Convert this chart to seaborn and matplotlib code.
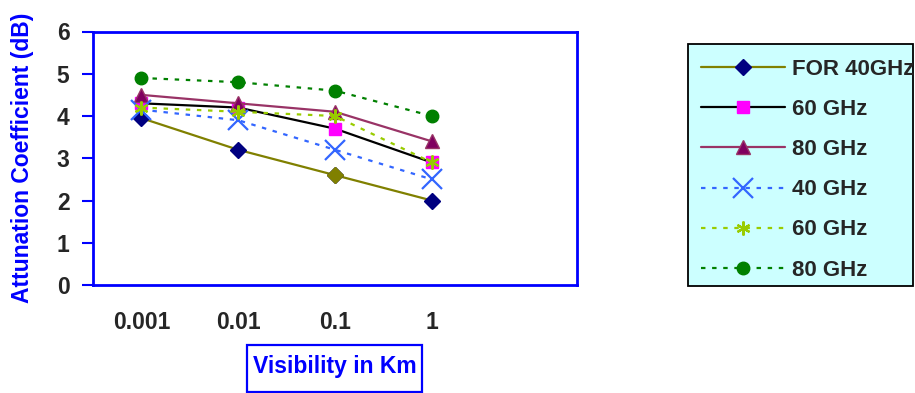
import matplotlib
matplotlib.use("Agg")
import matplotlib.pyplot as plt
from matplotlib.patches import Rectangle
import seaborn as sns
import pandas as pd
import numpy as np

# ---- data ----
categories = ["0.001", "0.01", "0.1", "1", ""]
series_names = ["FOR 40GHz", "60 GHz", "80 GHz", "40 GHz", "60 GHz ", "80 GHz "]
for40 = [3.95, 3.2, 2.6, 2.0]
s60 = [4.3, 4.2, 3.7, 2.9]
s80 = [4.5, 4.3, 4.1, 3.4]
d40 = [4.15, 3.9, 3.2, 2.5]
d60 = [4.2, 4.1, 4.0, 2.9]
d80 = [4.9, 4.8, 4.6, 4.0]
for40_marker_colors = ["#000080", "#000080", "#808000", "#000080"]
y_ticks = [0, 1, 2, 3, 4, 5, 6]

sns.set_theme(style="white")
plt.rcParams["font.family"] = ["Liberation Sans", "DejaVu Sans"]
plt.rcParams["font.weight"] = "bold"
FS = 16.5

fig = plt.figure(figsize=(9.15, 3.93), dpi=100)
W, H = 915, 393
ax = fig.add_axes([93 / W, 1 - 285 / H, (577 - 93) / W, (285 - 31.5) / H])

styles = [
    dict(color="#808000", marker="D", ms=8, mfc="#000080", mec="#000080", ls="-", lw=1.6),
    dict(color="#000000", marker="s", ms=8, mfc="#FF00FF", mec="#FF00FF", ls="-", lw=1.6),
    dict(color="#993366", marker="^", ms=10, mfc="#800060", mec="#993366", ls="-", lw=1.6),
    dict(color="#3366FF", marker="x", ms=15, mfc="#3366FF", mec="#3366FF", mew=1.6, ls=(0, (2, 3)), lw=1.6),
    dict(color="#99CC00", marker=(6, 2, 0), ms=10, mfc="#99CC00", mec="#99CC00", mew=1.6, ls=(0, (2, 3)), lw=1.6),
    dict(color="#008000", marker="o", ms=9, mfc="#008000", mec="#008000", ls=(0, (2, 3)), lw=1.6),
]
all_vals = [for40, s60, s80, d40, d60, d80]
xpos = list(range(len(for40)))

handles = []
for name, vals, st in zip(series_names, all_vals, styles):
    df = pd.DataFrame({"x": xpos, "y": vals})
    sns.lineplot(data=df, x="x", y="y", ax=ax, color=st["color"], lw=st["lw"],
                 linestyle=st["ls"], marker=st["marker"], markersize=st["ms"],
                 markerfacecolor=st["mfc"], markeredgecolor=st["mec"],
                 markeredgewidth=st.get("mew", 1.0), legend=False)
    h, = ax.plot([], [], color=st["color"], lw=st["lw"], linestyle=st["ls"],
                 marker=st["marker"], markersize=st["ms"], markerfacecolor=st["mfc"],
                 markeredgecolor=st["mec"], markeredgewidth=st.get("mew", 1.0))
    handles.append(h)

# special marker colour for FOR 40GHz points
for xi, yi, c in zip(xpos, for40, for40_marker_colors):
    if c != "#000080":
        ax.plot([xi], [yi], marker="D", ms=8, mfc=c, mec=c, ls="none")

ax.set_xlim(-0.5, len(categories) - 0.5)
ax.set_ylim(0, 6)
ax.set_yticks(y_ticks)
ax.set_yticklabels([str(t) for t in y_ticks], fontsize=FS, fontweight="bold")
ax.set_xticks(np.arange(len(categories) + 1) - 0.5)
ax.set_xticklabels([])
ax.set_xticks(np.arange(len(categories)), minor=True)
ax.set_xticklabels(categories, minor=True, fontsize=FS, fontweight="bold")
ax.tick_params(axis="x", which="major", direction="inout", length=10, width=1.5, color="#0000FF")
ax.tick_params(axis="x", which="minor", length=0, pad=19)
ax.tick_params(axis="y", direction="out", length=8, width=1.5, color="#0000FF", pad=9, left=True)
ax.set_xlabel("")
ax.set_ylabel("")
for sp in ax.spines.values():
    sp.set_color("#0000FF")
    sp.set_linewidth(2)
    sp.set_visible(True)

fig.text(23 / W, 1 - 158 / H, "Attunation Coefficient (dB)", rotation=90,
         ha="center", va="center", color="#0000FF", fontsize=FS, fontweight="bold")

# x-axis title with its box
fig.patches.append(Rectangle((247 / W, 1 - 392 / H), (422 - 247) / W, (392 - 345) / H,
                             transform=fig.transFigure, facecolor="white",
                             edgecolor="#0000FF", lw=1.6, zorder=1))
fig.text(335 / W, 1 - 367 / H, "Visibility in Km", ha="center", va="center",
         color="#0000FF", fontsize=FS, fontweight="bold", zorder=2)

# legend box
fig.patches.append(Rectangle((688 / W, 1 - 286 / H), (913 - 688) / W, (286 - 44) / H,
                             transform=fig.transFigure, facecolor="#CCFFFF",
                             edgecolor="#000000", lw=1.3, zorder=0))
leg = fig.legend(handles, [n.strip() for n in series_names], loc="upper left",
                 bbox_to_anchor=(701 / W, 1 - 59 / H), bbox_transform=fig.transFigure,
                 prop=dict(family="Liberation Sans", weight="bold", size=16),
                 frameon=False, handlelength=3.8, handletextpad=0.3, labelspacing=0.86,
                 borderpad=0, borderaxespad=0)

fig.savefig("out.png", dpi=100, facecolor="white")
